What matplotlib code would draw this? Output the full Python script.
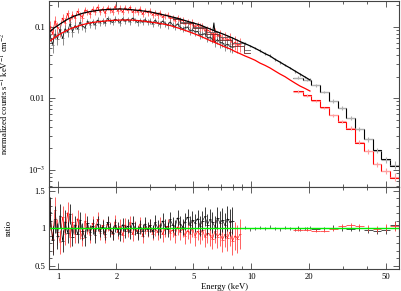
import matplotlib
matplotlib.use('Agg')
import matplotlib.pyplot as plt
import numpy as np
from matplotlib.ticker import FixedLocator, FixedFormatter, NullFormatter

plt.rcParams['font.family'] = 'Liberation Serif'
plt.rcParams['mathtext.fontset'] = 'stix'
plt.rcParams['font.size'] = 6.2

# channel energies (keV), soft band
energy = [0.906, 0.933, 0.961, 0.990, 1.020, 1.051, 1.083, 1.116, 1.149, 1.184,
          1.220, 1.257, 1.295, 1.334, 1.375, 1.416, 1.460, 1.504, 1.549, 1.596,
          1.645, 1.695, 1.746, 1.799, 1.853, 1.909, 1.967, 2.027, 2.088, 2.151,
          2.216, 2.283, 2.352, 2.424, 2.497, 2.573, 2.651, 2.731, 2.813, 2.898,
          2.986, 3.077, 3.170, 3.266, 3.365, 3.467, 3.572, 3.680, 3.791, 3.906,
          4.024, 4.146, 4.271, 4.401, 4.534, 4.671, 4.812, 4.958, 5.108, 5.263,
          5.422, 5.586, 5.755, 5.929, 6.109, 6.294, 6.484, 6.680, 6.883, 7.091,
          7.306, 7.527, 7.755, 7.990, 8.231, 8.481, 8.737]
# model energies above the soft band, up to 20 keV
energy_tail = [9.277, 9.848, 10.45, 11.09, 11.78, 12.50, 13.27, 14.08, 14.95, 15.87,
               16.84, 17.88, 18.98, 20.14]

# model A (black line through the upper red spectrum)
model_a = [0.086, 0.092, 0.098, 0.103, 0.109, 0.115, 0.121, 0.127, 0.132, 0.137,
           0.142, 0.146, 0.150, 0.154, 0.157, 0.160, 0.163, 0.165, 0.167, 0.169,
           0.171, 0.172, 0.173, 0.174, 0.175, 0.1755, 0.176, 0.1765, 0.177, 0.1765,
           0.176, 0.175, 0.174, 0.1725, 0.171, 0.1695, 0.168, 0.1665, 0.165, 0.163,
           0.161, 0.1585, 0.156, 0.153, 0.150, 0.1475, 0.145, 0.142, 0.139, 0.1365,
           0.134, 0.131, 0.128, 0.125, 0.122, 0.119, 0.116, 0.1135, 0.111, 0.1085,
           0.106, 0.1025, 0.099, 0.096, 0.093, 0.090, 0.087, 0.0845, 0.082, 0.0795,
           0.077, 0.0745, 0.072, 0.0695, 0.067, 0.0645, 0.062]
model_a_tail = [0.058, 0.054, 0.050, 0.046, 0.042, 0.039, 0.035, 0.032, 0.029, 0.0265,
                0.024, 0.0218, 0.0198, 0.018]

# model B (red line through the lower black spectrum)
model_b = [0.063, 0.067, 0.071, 0.075, 0.079, 0.0825, 0.086, 0.0895, 0.093, 0.096,
           0.099, 0.1015, 0.104, 0.1065, 0.109, 0.111, 0.113, 0.1145, 0.116, 0.117,
           0.118, 0.119, 0.120, 0.121, 0.122, 0.1225, 0.123, 0.1235, 0.124, 0.124,
           0.124, 0.124, 0.124, 0.1235, 0.123, 0.122, 0.121, 0.120, 0.119, 0.1175,
           0.116, 0.115, 0.114, 0.1125, 0.111, 0.1095, 0.108, 0.106, 0.104, 0.1015,
           0.099, 0.0965, 0.094, 0.0915, 0.089, 0.0865, 0.084, 0.0815, 0.079, 0.0765,
           0.074, 0.0715, 0.069, 0.0665, 0.064, 0.062, 0.060, 0.058, 0.056, 0.054,
           0.052, 0.0505, 0.049, 0.047, 0.045, 0.0435, 0.042]
model_b_tail = [0.039, 0.0365, 0.034, 0.031, 0.0288, 0.0265, 0.024, 0.0218, 0.020, 0.018,
                0.0163, 0.0148, 0.0137, 0.0126]

# data / model ratios, soft band
ratio_a = [1.18, 0.86, 1.24, 0.95, 0.82, 1.15, 0.93, 1.21, 0.88, 1.08,
           0.92, 1.13, 0.97, 0.87, 1.10, 1.02, 0.91, 1.07, 0.96, 1.12,
           0.94, 1.04, 0.89, 1.06, 0.99, 0.93, 1.09, 0.95, 1.03, 0.91,
           1.05, 0.97, 1.08, 0.92, 1.01, 0.96, 1.06, 0.90, 1.02, 0.97,
           1.04, 0.93, 1.00, 0.95, 1.05, 0.92, 0.99, 1.03, 0.94, 0.98,
           0.91, 1.02, 0.95, 0.99, 0.90, 0.97, 0.93, 1.01, 0.89, 0.96,
           0.92, 0.98, 0.88, 0.94, 0.91, 0.86, 0.96, 0.89, 0.93, 0.85,
           0.92, 0.87, 0.95, 0.83, 0.90, 0.86, 0.92]
ratio_b = [1.22, 0.84, 1.12, 0.90, 1.17, 0.83, 1.09, 0.94, 1.19, 0.89,
           1.05, 0.92, 1.11, 0.96, 0.88, 1.07, 0.95, 1.03, 0.91, 1.06,
           0.97, 1.02, 0.93, 1.08, 0.98, 0.94, 1.04, 0.99, 0.92, 1.05,
           0.96, 1.03, 0.95, 1.07, 1.00, 0.94, 1.02, 0.97, 1.06, 0.99,
           1.04, 0.96, 1.08, 1.01, 0.97, 1.10, 1.03, 0.99, 1.12, 1.05,
           1.01, 1.14, 1.06, 1.02, 1.09, 1.15, 1.04, 1.11, 1.07, 1.13,
           1.03, 1.10, 1.16, 1.05, 1.12, 1.08, 1.02, 1.14, 1.07, 1.11,
           1.04, 1.13, 1.08, 1.10]
# relative 1-sigma errors per channel
rel_err = [0.20, 0.19, 0.18, 0.17, 0.16, 0.15, 0.15, 0.14, 0.13, 0.13,
           0.12, 0.12, 0.11, 0.11, 0.11, 0.10, 0.10, 0.10, 0.10, 0.10,
           0.09, 0.09, 0.09, 0.09, 0.09, 0.09, 0.09, 0.09, 0.09, 0.09,
           0.09, 0.09, 0.09, 0.09, 0.09, 0.09, 0.09, 0.09, 0.09, 0.09,
           0.09, 0.09, 0.10, 0.10, 0.10, 0.10, 0.10, 0.10, 0.10, 0.10,
           0.10, 0.11, 0.11, 0.11, 0.11, 0.11, 0.12, 0.12, 0.12, 0.12,
           0.13, 0.13, 0.13, 0.14, 0.14, 0.14, 0.15, 0.15, 0.16, 0.16,
           0.17, 0.17, 0.18, 0.18, 0.19, 0.19, 0.20]

# 9-20 keV points along model A
ratio_mid = [1.01, 0.99, 1.00, 1.01, 1.00, 1.02, 1.00, 0.99, 1.01, 1.00,
             0.99, 0.98, 1.00, 1.01]
err_mid = 0.02

# Fe K line on both models
fe_energy = [6.33, 6.40, 6.47]
fe_a = [0.089, 0.113, 0.086]
fe_b = [0.062, 0.080, 0.061]

# coarse binned model curves seen between 4 and 10 keV
bin_energy = [3.94, 4.6, 5.4, 6.3, 7.3, 8.5, 9.85]
bin_grey = [0.132, 0.117, 0.100, 0.085, 0.071, 0.059, 0.047]
bin_dark = [0.128, 0.112, 0.095, 0.080, 0.066, 0.054, 0.043]

# hard band (binned)
he_edges = [16.4, 18.5, 20.5, 22.7, 25.2, 28.0, 31.0, 34.5, 38.3, 42.5, 47.2, 52.5, 58.5]
he_model_a = [0.0192, 0.0180, 0.0153, 0.0122, 0.0091, 0.0073, 0.0053, 0.0037,
              0.0027, 0.0019, 0.00140, 0.00113]
he_model_b = [0.0126, 0.0111, 0.0094, 0.0075, 0.0058, 0.0046, 0.0037, 0.0024,
              0.0018, 0.0012, 0.00096, 0.00077]
he_ratio_a = [1.01, 1.00, 0.99, 1.00, 1.01, 1.00, 0.99, 1.00, 0.98, 0.97, 0.98, 1.04]
he_ratio_b = [0.98, 0.98, 0.97, 0.97, 0.99, 1.03, 1.04, 1.03, 1.00, 0.99, 1.01, 1.03]
he_err = [0.02, 0.02, 0.02, 0.02, 0.03, 0.03, 0.03, 0.03, 0.04, 0.04, 0.05, 0.06]

axis_col = '#444444'

e = np.array(energy)
e_all = np.concatenate([e, energy_tail])
m_a = np.array(model_a)
m_b = np.array(model_b)
m_a_all = np.concatenate([m_a, model_a_tail])
m_b_all = np.concatenate([m_b, model_b_tail])
err = np.array(rel_err)
half_w = np.gradient(e) / 2

na, nb = len(ratio_a), len(ratio_b)
data_a = m_a[:na] * np.array(ratio_a)
data_b = m_b[:nb] * np.array(ratio_b)
e_mid = np.array(energy_tail)
data_mid = np.array(model_a_tail) * np.array(ratio_mid)

he_edges = np.array(he_edges)
he_c = np.sqrt(he_edges[:-1] * he_edges[1:])
he_xerr = [he_c - he_edges[:-1], he_edges[1:] - he_c]
he_data_a = np.array(he_model_a) * np.array(he_ratio_a)
he_data_b = np.array(he_model_b) * np.array(he_ratio_b)

fig = plt.figure(figsize=(4.01, 2.91), dpi=100)
ax1 = fig.add_axes([0.123, 0.3584, 0.8728, 0.6382])
ax2 = fig.add_axes([0.123, 0.0756, 0.8728, 0.2828], sharex=ax1)

# upper panel: spectra
ax1.errorbar(e[:na], data_a, xerr=half_w[:na], yerr=m_a[:na] * err[:na], fmt='none',
             ecolor='#ff6060', elinewidth=0.6)
ax1.plot(e[:na], data_a, color='red', lw=0.5)
ax1.errorbar(e[:nb], data_b, xerr=half_w[:nb], yerr=m_b[:nb] * err[:nb], fmt='none',
             ecolor='#7a7a7a', elinewidth=0.6)
ax1.plot(e[:nb], data_b, color='#111111', lw=0.5)
ax1.errorbar(e_mid, data_mid, yerr=data_mid * err_mid * 2, fmt='none',
             ecolor='#909090', elinewidth=0.8)

ax1.errorbar(he_c, he_data_a, xerr=he_xerr, yerr=he_data_a * np.array(he_err) * 2,
             fmt='none', ecolor='#b0b0b0', elinewidth=0.8)
ax1.errorbar(he_c, he_data_b, xerr=he_xerr, yerr=he_data_b * np.array(he_err) * 2,
             fmt='none', ecolor='#ffa0a0', elinewidth=0.8)
ax1.stairs(he_model_a, he_edges, baseline=None, color='black', lw=0.8)
ax1.stairs(he_model_b, he_edges, baseline=None, color='red', lw=0.8)

ax1.plot(bin_energy, bin_grey, drawstyle='steps-mid', color='#606060', lw=0.6)
ax1.plot(bin_energy, bin_dark, drawstyle='steps-mid', color='#6a2a2a', lw=0.6)
ax1.plot(e_all, m_a_all, color='black', lw=0.9)
ax1.plot(e_all, m_b_all, color='red', lw=0.9)
ax1.plot(fe_energy, fe_a, color='black', lw=0.7)
ax1.plot(fe_energy, fe_b, color='red', lw=0.7)

# lower panel: ratios
ax2.errorbar(e[:na], ratio_a, xerr=half_w[:na], yerr=err[:na], fmt='none',
             ecolor='#ff4848', elinewidth=0.6)
ax2.plot(e[:na], ratio_a, color='red', lw=0.4)
ax2.errorbar(e[:nb], ratio_b, xerr=half_w[:nb], yerr=err[:nb], fmt='none',
             ecolor='#1a1a1a', elinewidth=0.6)
ax2.plot(e[:nb], ratio_b, color='black', lw=0.4)
ax2.errorbar(e_mid, ratio_mid, yerr=err_mid, fmt='none', ecolor='#505050', elinewidth=0.6)
ax2.errorbar(he_c, he_ratio_a, xerr=he_xerr, yerr=he_err, fmt='none',
             ecolor='#303030', elinewidth=0.6)
ax2.errorbar(he_c, he_ratio_b, xerr=he_xerr, yerr=he_err, fmt='none',
             ecolor='#ff4040', elinewidth=0.6)
ax2.axhline(1.0, color='#00ee00', lw=1.0)

# axes
ax1.set_xscale('log')
ax1.set_yscale('log')
ax1.set_xlim(0.898, 58.5)
ax1.set_ylim(5.78e-4, 0.229)
ax2.set_ylim(0.457, 1.555)

ax1.yaxis.set_major_locator(FixedLocator([0.001, 0.01, 0.1]))
ax1.yaxis.set_major_formatter(FixedFormatter(['10$^{-3}$', '0.01', '0.1']))
ax1.yaxis.set_minor_locator(FixedLocator([k * d for d in (1e-4, 1e-3, 1e-2, 1e-1)
                                          for k in (2, 3, 4, 5, 6, 7, 8, 9)]))
ax1.yaxis.set_minor_formatter(NullFormatter())

ax2.xaxis.set_major_locator(FixedLocator([1, 2, 5, 10, 20, 50]))
ax2.xaxis.set_major_formatter(FixedFormatter(['1', '2', '5', '10', '20', '50']))
ax2.xaxis.set_minor_locator(FixedLocator([3, 4, 6, 7, 8, 9, 30, 40]))
ax2.xaxis.set_minor_formatter(NullFormatter())
ax2.yaxis.set_major_locator(FixedLocator([0.5, 1.0, 1.5]))
ax2.yaxis.set_major_formatter(FixedFormatter(['0.5', '1', '1.5']))
ax2.yaxis.set_minor_locator(FixedLocator([0.6, 0.7, 0.8, 0.9, 1.1, 1.2, 1.3, 1.4]))
plt.setp(ax1.get_xticklabels(), visible=False)

for ax in (ax1, ax2):
    ax.tick_params(which='both', direction='in', top=True, right=True,
                   color=axis_col, width=0.6, labelsize=6.2, pad=3)
    ax.tick_params(which='major', length=4)
    ax.tick_params(which='minor', length=2)
    for s in ax.spines.values():
        s.set_color(axis_col)
        s.set_linewidth(0.8)

ax1.set_ylabel('normalized counts s$^{-1}$ keV$^{-1}$ cm$^{-2}$')
ax1.yaxis.set_label_coords(-0.109, 0.5)
ax2.set_ylabel('ratio')
ax2.yaxis.set_label_coords(-0.105, 0.5)
ax2.set_xlabel('Energy (keV)', labelpad=1)

fig.savefig('out.png', dpi=100)
